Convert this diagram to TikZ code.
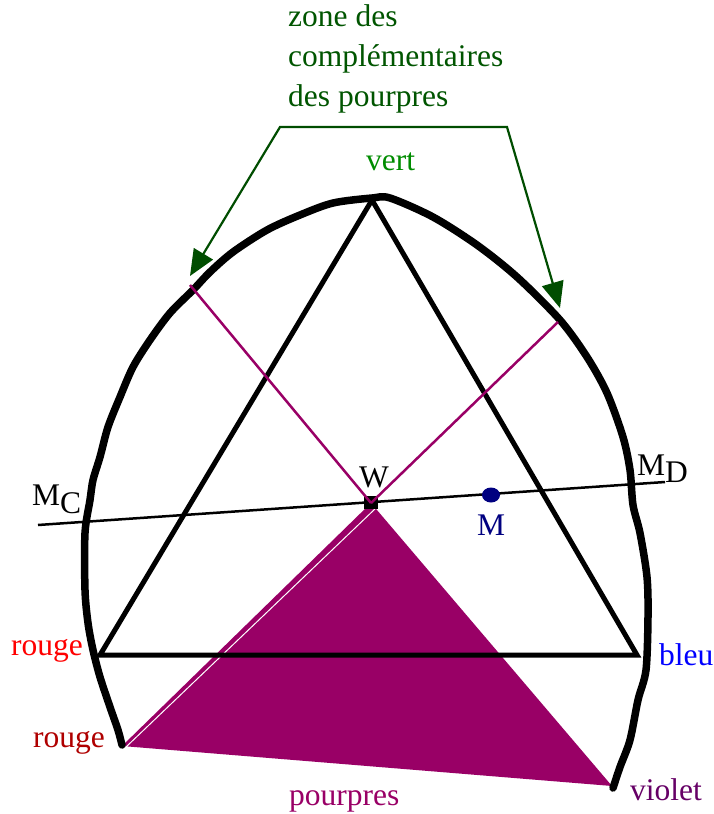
\documentclass[tikz,border=0pt]{standalone}
\usepackage{fontspec}
\setmainfont{Liberation Serif}
\usetikzlibrary{arrows.meta}
\definecolor{pourpre}{RGB}{153,0,102}
\definecolor{darkgreen}{RGB}{0,77,0}
\definecolor{textgreen}{RGB}{0,85,0}
\definecolor{vertc}{RGB}{0,140,0}
\definecolor{rougefonce}{RGB}{175,0,0}
\definecolor{violetc}{RGB}{102,0,102}
\definecolor{navyc}{RGB}{0,0,128}
\tikzset{
  lbl/.style={inner sep=0pt, anchor=base west, font=\fontsize{31.5}{40}\selectfont},
  tri/.style={line width=5pt, line join=miter},
  locus/.style={line width=7.5pt, line join=round, line cap=round},
  mline/.style={pourpre, line width=2.5pt},
  garrow/.style={darkgreen, line width=2.2pt, {Triangle[length=26pt,width=22pt]}-{Triangle[length=26pt,width=22pt]}},
}
\begin{document}
\begin{tikzpicture}[x=1pt,y=-1pt]
\useasboundingbox (0,0) rectangle (714,814);
% key points
\coordinate (G) at (372,200);
\coordinate (R) at (100,655);
\coordinate (B) at (637,655);
\coordinate (W) at (371,503);
\coordinate (R2) at (122,746);
\coordinate (V) at (612,786);
\coordinate (MCend) at (38,525);
\coordinate (MDend) at (665,482);
\coordinate (PL) at (190,285);
\coordinate (PR) at (558,322);
\coordinate (tipL) at (190,276);
\coordinate (tipR) at (560,308);
\coordinate (cL) at (280,127);
\coordinate (cR) at (507,127);
% purple zone
\fill[pourpre] (W) -- (R2) -- (V) -- cycle;
\draw[white, line width=1pt] (376,508) -- (126,747);
% MC-MD line
\draw[line width=2.5pt] (MCend) -- (MDend);
% triangle
\draw[tri] (G) -- (R) -- (B) -- cycle;
% locus
\draw[locus] plot[smooth, tension=0.5] coordinates {
  (122,745) (118,730) (110,707) (100,677) (93,650) (88,623) (85,590)
  (85,533) (90,500) (93,480) (100,457) (108,427) (120,397) (133,367)
  (150,340) (170,313) (193,290) (210,272) (233,252) (267,230) (300,215)
  (333,203) (372,198) (390,198) (433,217) (477,245) (517,277) (560,320)
  (587,357) (607,393) (623,437) (630,470) (633,505) (640,533) (647,577)
  (648,617) (646,670) (638,700) (630,740) (620,767) (613,788)};
% W marker
\fill (364,496) rectangle (378,509);
% magenta lines
\draw[mline] (W) -- (PL);
\draw[mline] (W) -- (PR);
% M point
\fill[navyc] (491,495) ellipse (9pt and 7.5pt);
% green bracket arrows
\draw[garrow] (tipL) -- (cL) -- (cR) -- (tipR);
% labels
\node[lbl, textgreen, align=left, anchor=north west] (zone) at (288,4)
  {zone des\\compl\'ementaires\\des pourpres};
\node[lbl, vertc] (vert) at (366,170) {vert};
\node[lbl] (wl) at (359,487) {W};
\node[lbl, navyc] (ml) at (477,535) {M};
\node[lbl] (mc) at (32,505) {M\raisebox{-8pt}{C}};
\node[lbl] (md) at (637,475) {M\raisebox{-7pt}{D}};
\node[lbl, red] (rouge1) at (11,655) {rouge};
\node[lbl, rougefonce] (rouge2) at (33,747) {rouge};
\node[lbl, blue] (bleu) at (659,665) {bleu};
\node[lbl, violetc] (violet) at (630,800) {violet};
\node[lbl, pourpre] (pourpres) at (289,805) {pourpres};
\end{tikzpicture}
\end{document}
